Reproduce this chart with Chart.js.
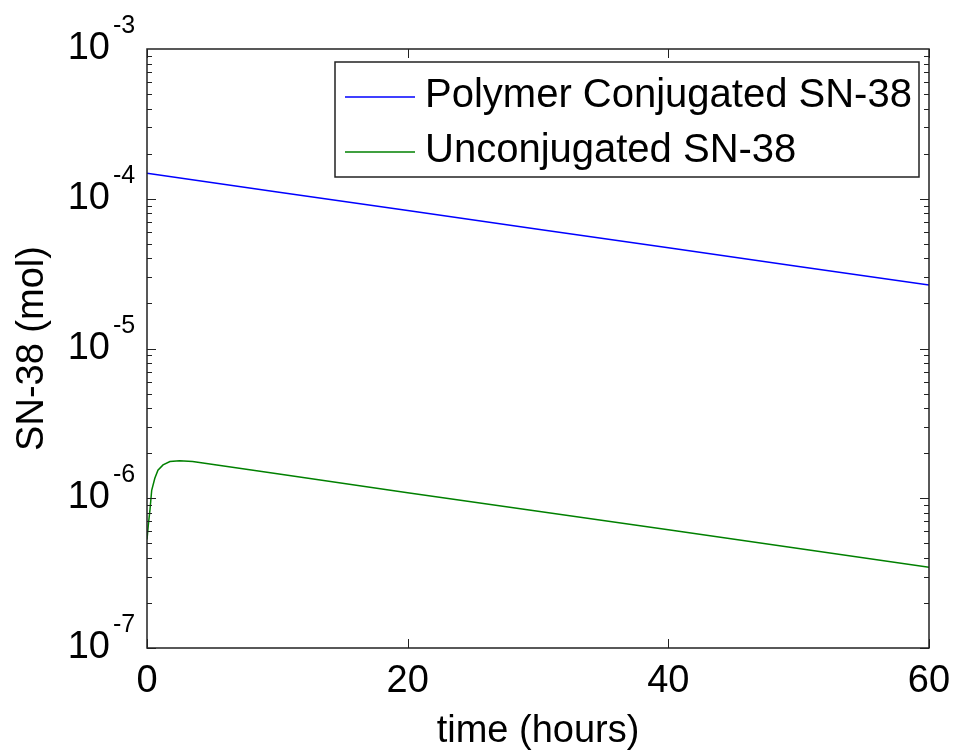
<!DOCTYPE html>
<html>
<head>
<meta charset="utf-8">
<title>SN-38 vs time</title>
<script src="https://cdn.jsdelivr.net/npm/chart.js@4.4.1/dist/chart.umd.min.js"></script>
<style>
  body { margin: 0; background: #fff; }
  #wrap { width: 956px; height: 754px; position: relative; }
</style>
</head>
<body>
<div id="wrap"><canvas id="canvas"></canvas></div>
<script>
// polymer conjugated SN-38 (mol), time in hours
var timeConj = [0, 10, 20, 30, 40, 50, 60];
var conjSN38 = [1.48e-4, 1.11e-4, 8.34e-5, 6.26e-5, 4.71e-5, 3.53e-5, 2.65e-5];

// unconjugated SN-38 (mol)
var timeFree = [0, 0.1, 0.23, 0.36, 0.6, 0.84, 1.23, 1.76, 2.5, 3.5, 10, 20, 30, 40, 50, 60];
var freeSN38 = [5.3e-7, 6.6e-7, 8.4e-7, 1.13e-6, 1.36e-6, 1.54e-6, 1.67e-6, 1.76e-6, 1.78e-6, 1.76e-6,
                1.46e-6, 1.09e-6, 8.2e-7, 6.15e-7, 4.61e-7, 3.46e-7];

var seriesNames = ['Polymer Conjugated SN-38', 'Unconjugated SN-38'];
var xTicks = [0, 20, 40, 60];
var yExponents = [-7, -6, -5, -4, -3];

var FONT = '"Liberation Sans", Arial, Helvetica, sans-serif';

function toPoints(xs, ys) {
    var pts = [];
    for (let i = 0; i < xs.length; i++) {
        pts.push({ x: xs[i], y: ys[i] });
    }
    return pts;
}

function seg(ctx, x1, y1, x2, y2) {
    ctx.beginPath();
    ctx.moveTo(x1, y1);
    ctx.lineTo(x2, y2);
    ctx.stroke();
}

// MATLAB-like box, inward ticks, 10^n labels and legend
var matlabAxes = {
    id: 'matlabAxes',
    afterDatasetsDraw: function(chart) {
        const ctx = chart.ctx;
        const a = chart.chartArea;
        const xs = chart.scales.x, ys = chart.scales.y;
        ctx.save();
        ctx.strokeStyle = '#222';
        ctx.lineWidth = 1;

        // x ticks (bottom + top)
        xTicks.forEach(function(v) {
            const px = Math.round(xs.getPixelForValue(v)) + 0.5;
            seg(ctx, px, a.bottom, px, a.bottom - 9);
            seg(ctx, px, a.top, px, a.top + 9);
        });

        // y ticks, decades and minor (left + right)
        for (let e = yExponents[0]; e < yExponents[yExponents.length - 1]; e++) {
            for (let m = 1; m <= 9; m++) {
                const py = Math.round(ys.getPixelForValue(m * Math.pow(10, e))) + 0.5;
                const len = m === 1 ? 9 : 5;
                seg(ctx, a.left, py, a.left + len, py);
                seg(ctx, a.right, py, a.right - len, py);
            }
        }

        // box
        ctx.lineWidth = 1.5;
        ctx.strokeRect(a.left, a.top, a.right - a.left, a.bottom - a.top);

        // tick labels
        ctx.fillStyle = '#000';
        ctx.textBaseline = 'alphabetic';
        ctx.font = '38px ' + FONT;
        ctx.textAlign = 'center';
        xTicks.forEach(function(v) {
            ctx.fillText(String(v), xs.getPixelForValue(v), a.bottom + 44);
        });
        yExponents.forEach(function(e) {
            const py = ys.getPixelForValue(Math.pow(10, e));
            ctx.font = '38px ' + FONT;
            ctx.textAlign = 'right';
            ctx.fillText('10', a.left - 37, py + 10);
            ctx.font = '25px ' + FONT;
            ctx.textAlign = 'left';
            ctx.fillText(String(e), a.left - 34, py - 16);
        });

        // legend box
        const lx = 335, ly = 62, lw = 584, lh = 115;
        ctx.fillStyle = '#fff';
        ctx.fillRect(lx, ly, lw, lh);
        ctx.lineWidth = 1.5;
        ctx.strokeStyle = '#222';
        ctx.strokeRect(lx, ly, lw, lh);
        ctx.font = '40px ' + FONT;
        ctx.textAlign = 'left';
        chart.data.datasets.forEach(function(ds, i) {
            const base = 107 + i * 55;
            ctx.strokeStyle = ds.borderColor;
            ctx.lineWidth = 1.5;
            seg(ctx, 345, base - 10, 415, base - 10);
            ctx.fillStyle = '#000';
            ctx.fillText(ds.label, 425, base);
        });
        ctx.restore();
    }
};

const ctx = document.getElementById('canvas').getContext('2d');
const myChart = new Chart(ctx, {
    type: 'line',
    data: {
        datasets: [{
            label: seriesNames[0],
            data: toPoints(timeConj, conjSN38),
            borderColor: '#0000ff',
            backgroundColor: '#0000ff',
            borderWidth: 1.5,
            pointRadius: 0,
            tension: 0
        }, {
            label: seriesNames[1],
            data: toPoints(timeFree, freeSN38),
            borderColor: '#008000',
            backgroundColor: '#008000',
            borderWidth: 1.5,
            pointRadius: 0,
            tension: 0
        }]
    },
    options: {
        responsive: true,
        maintainAspectRatio: false,
        animation: false,
        layout: { padding: { top: 49, right: 27, bottom: 0, left: 0 } },
        plugins: {
            legend: { display: false },
            tooltip: { enabled: false }
        },
        scales: {
            x: {
                type: 'linear',
                min: 0,
                max: 60,
                grid: { display: false },
                border: { display: false },
                ticks: { display: false, stepSize: 20 },
                title: {
                    display: true,
                    text: 'time (hours)',
                    color: '#000',
                    font: { family: FONT, size: 38 },
                    padding: { top: 0, bottom: 0 }
                },
                afterFit: function(scale) { scale.height = 106; }
            },
            y: {
                type: 'logarithmic',
                min: 1e-7,
                max: 1e-3,
                grid: { display: false },
                border: { display: false },
                ticks: { display: false },
                title: {
                    display: true,
                    text: 'SN-38 (mol)',
                    color: '#000',
                    font: { family: FONT, size: 38 },
                    padding: { top: 10, bottom: 0 }
                },
                afterFit: function(scale) { scale.width = 147; }
            }
        }
    },
    plugins: [matlabAxes]
});
</script>
</body>
</html>
